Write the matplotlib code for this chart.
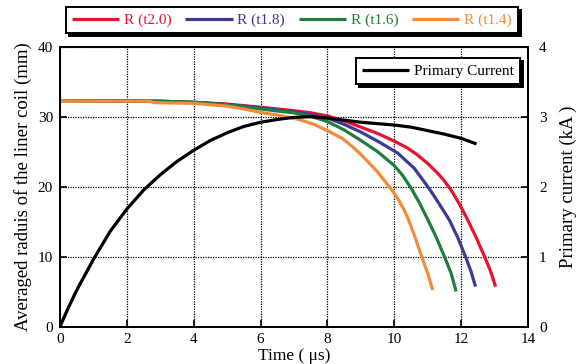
import matplotlib
matplotlib.use("Agg")
import matplotlib.pyplot as plt

plt.rcParams['font.family'] = ['Liberation Serif', 'DejaVu Serif']

# ---- data ----
t_red = [0, 3.0, 4.0, 5.0, 6.0, 6.5, 7.0, 7.5, 8.0, 8.5, 9.0, 9.5, 10.0, 10.4, 10.7,
         11.0, 11.3, 11.5, 11.7, 11.95, 12.2, 12.45, 12.7, 12.88, 13.03]
r_red = [32.3, 32.2, 32.05, 31.8, 31.35, 31.1, 30.85, 30.55, 30.1, 29.4, 28.5, 27.6, 26.5, 25.5, 24.5,
         23.3, 21.9, 20.8, 19.5, 17.5, 15.2, 12.7, 10.0, 7.9, 5.7]

t_blue = [0, 3.0, 4.0, 5.0, 6.0, 6.5, 7.0, 7.5, 8.0, 8.5, 9.0, 9.5, 10.1, 10.6, 11.0,
          11.2, 11.4, 11.65, 11.9, 12.13, 12.3, 12.43]
r_blue = [32.3, 32.2, 32.05, 31.75, 31.25, 30.95, 30.65, 30.3, 29.8, 28.9, 27.8, 26.5, 24.8, 22.6, 20.0,
          18.6, 17.1, 15.2, 12.7, 10.0, 7.8, 5.7]

t_green = [0, 3.0, 4.0, 5.0, 6.0, 6.5, 7.0, 7.5, 8.0, 8.5, 9.0, 9.5, 10.0, 10.25, 10.5,
           10.75, 11.0, 11.25, 11.5, 11.7, 11.85]
r_green = [32.3, 32.2, 32.05, 31.7, 31.1, 30.8, 30.55, 30.05, 29.3, 28.1, 26.6, 25.0, 23.0, 21.6, 19.8,
           17.7, 15.3, 12.8, 10.0, 7.6, 5.0]

t_orange = [0, 2.7, 2.8, 4.0, 5.0, 5.5, 6.0, 6.6, 7.15, 7.6, 8.0, 8.44, 8.75, 9.0, 9.5,
            9.93, 10.13, 10.3, 10.43, 10.62, 10.82, 11.0, 11.15]
r_orange = [32.25, 32.2, 32.0, 31.9, 31.5, 31.1, 30.6, 30.15, 29.6, 28.9, 28.0, 26.9, 25.7, 24.6, 22.1,
            19.5, 18.1, 16.6, 15.2, 12.8, 10.0, 7.6, 5.2]

t_cur = [0, 0.25, 0.5, 1.0, 1.5, 2.0, 2.5, 3.0, 3.5, 4.0, 4.5, 5.0, 5.5, 6.0, 6.5, 7.0, 7.5,
         8.0, 8.5, 9.0, 9.5, 10.0, 10.5, 11.0, 11.5, 12.0, 12.46]
i_cur = [0, 0.27, 0.52, 0.96, 1.36, 1.68, 1.95, 2.17, 2.36, 2.52, 2.66, 2.77, 2.86, 2.92, 2.96, 2.99, 3.0,
         2.98, 2.95, 2.92, 2.90, 2.88, 2.85, 2.80, 2.75, 2.69, 2.61]

labels = ['R (t2.0)', 'R (t1.8)', 'R (t1.6)', 'R (t1.4)']
colors = ['#E8142E', '#3A3C98', '#1F7E3E', '#F28C38']

x_ticks = [0, 2, 4, 6, 8, 10, 12, 14]
y_ticks = [0, 10, 20, 30, 40]
y2_ticks = [0, 1, 2, 3, 4]

# ---- figure ----
fig = plt.figure(figsize=(5.81, 3.64), dpi=100)
ax = fig.add_axes([0.1033, 0.103, 0.8055, 0.7687])
ax2 = ax.twinx()

lw = 2.3
series = [(t_red, r_red), (t_blue, r_blue), (t_green, r_green), (t_orange, r_orange)]
handles = []
for (tx, ry), c, lab in zip(series, colors, labels):
    h, = ax.plot(tx, ry, color=c, lw=lw, label=lab, solid_capstyle='butt',
                 solid_joinstyle='round')
    handles.append(h)

hc, = ax2.plot(t_cur, i_cur, color='black', lw=lw, label='Primary Current',
               solid_capstyle='butt', solid_joinstyle='round')

ax.set_xlim(0, 14)
ax.set_ylim(0, 40)
ax2.set_ylim(0, 4)
ax.set_xticks(x_ticks)
ax.set_yticks(y_ticks)
ax2.set_yticks(y2_ticks)

ax.grid(True, color='black', linestyle=(0, (1, 1)), linewidth=0.9)
for a in (ax, ax2):
    for s in a.spines.values():
        s.set_linewidth(1.4)
ax.tick_params(direction='in', length=5, width=1.2, labelsize=11, pad=5)
ax2.tick_params(direction='in', length=5, width=1.2, labelsize=11, pad=8)

ax.set_xlabel('Time ( μs)', fontsize=12.5, labelpad=1)
ax.set_ylabel('Averaged raduis of the liner coil (mm)', fontsize=13.5, labelpad=4)
ax2.set_ylabel('Primary current (kA )', fontsize=13.5, labelpad=9)

# top legend
leg = fig.legend(handles=handles, labels=labels, loc='upper left',
                 bbox_to_anchor=(0.1136, 0.98), ncol=4, fontsize=11,
                 handlelength=3.1, handletextpad=0.3, columnspacing=0.9,
                 borderpad=0.4, borderaxespad=0, fancybox=False,
                 edgecolor='black', framealpha=1, labelcolor='linecolor',
                 shadow={'color': 'black', 'alpha': 1})
leg.get_frame().set_linewidth(1.4)

# current legend
leg2 = ax2.legend(handles=[hc], loc='upper right', bbox_to_anchor=(0.983, 0.9585),
                  fontsize=11, handlelength=3.1, handletextpad=0.3,
                  borderpad=0.4, borderaxespad=0, fancybox=False,
                  edgecolor='black', framealpha=1,
                  shadow={'color': 'black', 'alpha': 1})
leg2.get_frame().set_linewidth(1.4)

fig.savefig('out.png', dpi=100)
